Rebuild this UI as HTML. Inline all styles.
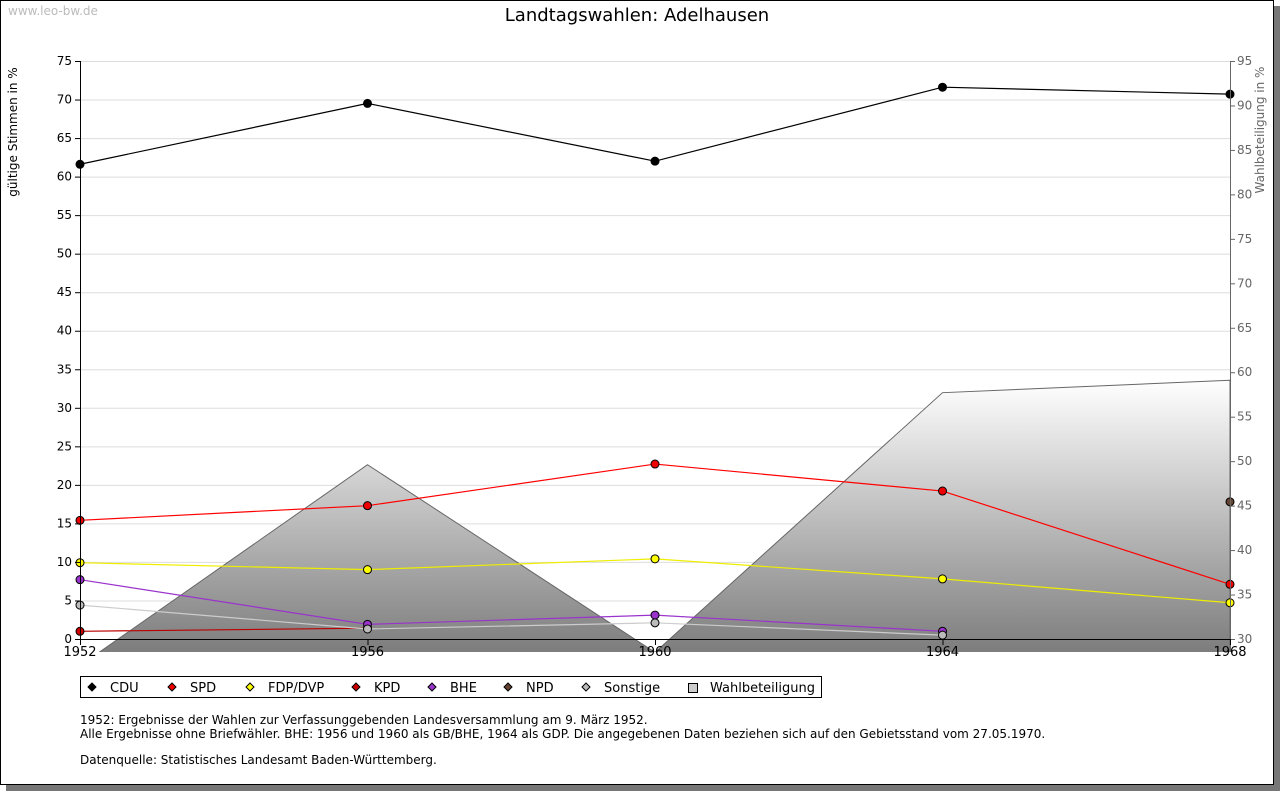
<!DOCTYPE html>
<html><head><meta charset="utf-8"><style>
body{margin:0;background:#fff;width:1280px;height:791px;overflow:hidden;font-family:"Liberation Sans","DejaVu Sans",sans-serif}
svg text{font-family:"DejaVu Sans","Liberation Sans",sans-serif}
</style></head><body>
<svg id="c" width="1280" height="791" xmlns="http://www.w3.org/2000/svg">
<defs>
<linearGradient id="g" x1="0" y1="0" x2="0" y2="1"><stop offset="0" stop-color="#ffffff"/><stop offset="1" stop-color="#666"/></linearGradient>
<clipPath id="clip"><rect x="80" y="61" width="1150" height="591"/></clipPath>
</defs>
<rect x="6" y="6" width="1274" height="785" fill="#777"/>
<rect x="0.5" y="0.5" width="1273" height="784" fill="#fff" stroke="#000"/>
<text x="8" y="15" font-size="12" fill="#bbb">www.leo-bw.de</text>
<text x="637" y="21" font-size="18" text-anchor="middle">Landtagswahlen: Adelhausen</text>
<text transform="translate(17,132) rotate(-90)" font-size="12" text-anchor="middle">gültige Stimmen in %</text>
<text transform="translate(1264,130) rotate(-90)" font-size="12" fill="#666" text-anchor="middle">Wahlbeteiligung in %</text>
<g id="grid"></g><g id="area"></g><g id="lines"></g><g id="axes"></g>
<rect x="80.5" y="676.5" width="741" height="21" fill="#fff" stroke="#000"/>
<g id="legend"></g>
<text font-size="12"><tspan x="80" y="724">1952: Ergebnisse der Wahlen zur Verfassunggebenden Landesversammlung am 9. März 1952.</tspan><tspan x="80" y="738">Alle Ergebnisse ohne Briefwähler. BHE: 1956 und 1960 als GB/BHE, 1964 als GDP. Die angegebenen Daten beziehen sich auf den Gebietsstand vom 27.05.1970.</tspan><tspan x="80" y="764">Datenquelle: Statistisches Landesamt Baden-Württemberg.</tspan></text>
</svg>
<script>
const years=[1952,1956,1960,1964,1968];
const cdu=[61.6,69.5,62.0,71.6,70.7];
const spd=[15.4,17.3,22.7,19.2,7.1];
const fdp=[9.9,9.0,10.4,7.8,4.7];
const kpd=[1.0,1.4,null,null,null];
const bhe=[7.7,1.9,3.1,1.0,null];
const npd=[null,null,null,null,17.8];
const sonst=[4.4,1.3,2.1,0.5,null];
const turnout=[27.0,49.6,28.5,57.7,59.1];
const leftTicks=[0,5,10,15,20,25,30,35,40,45,50,55,60,65,70,75];
const rightTicks=[30,35,40,45,50,55,60,65,70,75,80,85,90,95];
const NS='http://www.w3.org/2000/svg';
const X=y=>80+(y-1952)/16*1150;
const Y=v=>639-v/75*578;
const Y2=v=>639-(v-30)/65*578;
function mk(t,a,p){const e=document.createElementNS(NS,t);for(const k in a)e.setAttribute(k,a[k]);document.getElementById(p).appendChild(e);return e;}
leftTicks.forEach(v=>{
 const l=mk('line',{x1:80,x2:1230,y1:Y(v)+.5,y2:Y(v)+.5,stroke:'#ddd'},'grid');
 
 
 const t=mk('text',{x:72,y:Y(v)+4,'font-size':12,'text-anchor':'end'},'axes');t.textContent=v;
 
 
 mk('line',{x1:75,x2:80,y1:Y(v)+.5,y2:Y(v)+.5,stroke:'#000'},'axes');
});
rightTicks.forEach(v=>{
 const t=mk('text',{x:1237,y:Y2(v)+4,'font-size':12,fill:'#666'},'axes');t.textContent=v;
 
 
 mk('line',{x1:1230,x2:1235,y1:Y2(v)+.5,y2:Y2(v)+.5,stroke:'#666'},'axes');
});
let pts=years.map((y,i)=>X(y)+','+Y2(turnout[i])).join(' ');
const ar=mk('polygon',{points:X(1952)+',700 '+pts+' '+X(1968)+',700',fill:'url(#g)',stroke:'#666','clip-path':'url(#clip)'},'area');


mk('line',{x1:80.5,x2:80.5,y1:61,y2:639,stroke:'#000'},'axes');
mk('line',{x1:1230.5,x2:1230.5,y1:61,y2:652,stroke:'#666'},'axes');
mk('line',{x1:80,x2:1230,y1:639.5,y2:639.5,stroke:'#000'},'axes');
years.forEach(y=>{
 mk('line',{x1:X(y)+.5,x2:X(y)+.5,y1:639,y2:645,stroke:'#000'},'axes');
 const t=mk('text',{x:X(y),y:656,'font-size':13,'text-anchor':'middle'},'axes');t.textContent=y;
 
 
});
const series=[['cdu',cdu,'#000','#000'],['spd',spd,'#f00','#e00'],['fdp',fdp,'#ee0','#ff0'],['kpd',kpd,'#b00','#c00'],['bhe',bhe,'#93c','#93c'],['npd',npd,'#643','#643'],['sonstige',sonst,'#ccc','#bbb']];
series.forEach(([n,d,c,f])=>{
 const p=[];d.forEach((v,i)=>{if(v!=null)p.push(X(years[i])+','+Y(v));});
 if(p.length>1){const pl=mk('polyline',{points:p.join(' '),fill:'none',stroke:c,'stroke-width':1.2},'lines');
  
  }
 d.forEach((v,i)=>{if(v==null)return;
  const m=mk('circle',{cx:X(years[i]),cy:Y(v),r:4,fill:f,stroke:'#000','stroke-width':1},'lines');
  
  });
});
const leg=[['CDU','#000',92],['SPD','#e00',172],['FDP/DVP','#ff0',250],['KPD','#c00',356],['BHE','#93c',432],['NPD','#643',508],['Sonstige','#bbb',586]];
leg.forEach(([t,c,x])=>{
 const d=mk('path',{d:`M${x} 683 l4 4 l-4 4 l-4 -4 z`,fill:c,stroke:'#000'},'legend');
 
 
 const tx=mk('text',{x:x+18,y:692,'font-size':13},'legend');tx.textContent=t;
 
 
});
const sq=mk('rect',{x:688.5,y:683.5,width:9,height:9,fill:'#ccc',stroke:'#000'},'legend');


const wt=mk('text',{x:710,y:692,'font-size':13},'legend');wt.textContent='Wahlbeteiligung';


</script>
</body></html>
